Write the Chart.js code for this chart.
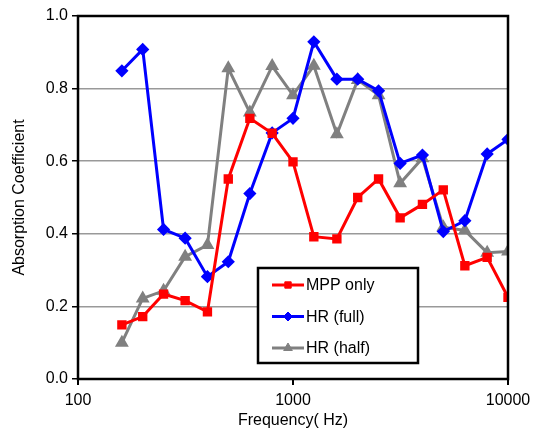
<!DOCTYPE html>
<html>
<head>
<meta charset="utf-8">
<script src="https://cdn.jsdelivr.net/npm/chart.js@4/dist/chart.umd.min.js"></script>
<style>
  html, body { margin: 0; padding: 0; background: #fff; }
  #wrap { width: 540px; height: 440px; }
</style>
</head>
<body>
<div id="wrap"><canvas id="absChart" width="540" height="440"></canvas></div>
<script>
// 1/3 octave band centres (Hz)
const freqs = [160, 200, 250, 315, 400, 500, 630, 800, 1000, 1250, 1600, 2000, 2500, 3150, 4000, 5000, 6300, 8000, 10000];

const mppOnly = [0.149, 0.172, 0.234, 0.216, 0.185, 0.551, 0.718, 0.677, 0.598, 0.392, 0.386, 0.500, 0.551, 0.444, 0.481, 0.521, 0.312, 0.335, 0.225];
const hrFull  = [0.849, 0.908, 0.412, 0.388, 0.282, 0.323, 0.511, 0.678, 0.718, 0.929, 0.826, 0.826, 0.794, 0.594, 0.617, 0.406, 0.436, 0.620, 0.660];
const hrHalf  = [0.100, 0.222, 0.243, 0.337, 0.369, 0.856, 0.734, 0.862, 0.782, 0.863, 0.674, 0.824, 0.782, 0.539, 0.608, 0.418, 0.409, 0.348, 0.351];

const xTicks = [100, 1000, 10000];

const toPoints = vals => vals.map((v, i) => ({ x: freqs[i], y: v }));

const FONT = '"Liberation Sans", Arial, sans-serif';

// black frame around the plot + boxed legend inside the plot
const framePlugin = {
    id: 'frame',
    afterDraw(chart) {
        const { ctx, chartArea: a } = chart;
        ctx.save();
        ctx.setLineDash([]);
        ctx.strokeStyle = '#000';
        ctx.lineWidth = 2.5;
        ctx.beginPath();
        ctx.rect(a.left, a.top, a.right - a.left, a.bottom - a.top);
        ctx.stroke();

        // legend box
        const bx = 258, by = 268, bw = 160, bh = 95;
        ctx.fillStyle = '#fff';
        ctx.fillRect(bx, by, bw, bh);
        ctx.beginPath();
        ctx.rect(bx, by, bw, bh);
        ctx.stroke();
        ctx.font = '16px ' + FONT;
        ctx.textBaseline = 'middle';
        chart.data.datasets.forEach((ds, i) => {
            const y = by + 17 + i * 31.5;
            ctx.strokeStyle = ds.borderColor;
            ctx.lineWidth = 3;
            ctx.beginPath();
            ctx.moveTo(bx + 14, y);
            ctx.lineTo(bx + 46, y);
            ctx.stroke();
            ctx.fillStyle = ds.backgroundColor;
            ctx.lineWidth = 1;
            Chart.helpers.drawPoint(ctx, {
                pointStyle: ds.pointStyle,
                radius: ds.pointRadius,
                borderWidth: 1
            }, bx + 30, y);
            ctx.fillStyle = '#000';
            ctx.fillText(ds.label, bx + 48, y + 1);
        });
        ctx.restore();
    }
};

new Chart(document.getElementById('absChart'), {
    type: 'line',
    data: {
        datasets: [
            {
                label: 'MPP only',
                data: toPoints(mppOnly),
                borderColor: '#ff0000',
                backgroundColor: '#ff0000',
                pointStyle: 'rect',
                pointRadius: 4.5,
                borderWidth: 3
            },
            {
                label: 'HR (full)',
                data: toPoints(hrFull),
                borderColor: '#0000ff',
                backgroundColor: '#0000ff',
                pointStyle: 'rectRot',
                pointRadius: 4.5,
                borderWidth: 3
            },
            {
                label: 'HR (half)',
                data: toPoints(hrHalf),
                borderColor: '#808080',
                backgroundColor: '#808080',
                pointStyle: 'triangle',
                pointRadius: 5,
                borderWidth: 3
            }
        ]
    },
    options: {
        responsive: false,
        animation: false,
        layout: { padding: { left: 10, right: 32, top: 16, bottom: 10 } },
        plugins: {
            legend: { display: false },
            tooltip: { enabled: false }
        },
        elements: {
            line: { tension: 0 },
            point: { borderWidth: 1 }
        },
        scales: {
            x: {
                type: 'logarithmic',
                min: 100,
                max: 10000,
                afterBuildTicks: scale => {
                    scale.ticks = xTicks.map(v => ({ value: v }));
                },
                afterFit: scale => { scale.height = 51; },
                grid: {
                    drawOnChartArea: false,
                    drawTicks: true,
                    tickLength: 6,
                    color: '#000',
                    lineWidth: 2
                },
                border: { display: false },
                ticks: {
                    color: '#000',
                    font: { family: FONT, size: 16 },
                    padding: 6,
                    maxRotation: 0,
                    autoSkip: false,
                    callback: v => String(v)
                },
                title: {
                    display: true,
                    text: 'Frequency( Hz)',
                    color: '#000',
                    font: { family: FONT, size: 16 },
                    padding: { top: 0, bottom: 0 }
                }
            },
            y: {
                min: 0,
                max: 1,
                afterFit: scale => { scale.width = 68; },
                grid: {
                    color: '#999999',
                    lineWidth: 1.5,
                    drawTicks: true,
                    tickLength: 6,
                    tickColor: '#000'
                },
                border: { display: false },
                ticks: {
                    stepSize: 0.2,
                    color: '#000',
                    font: { family: FONT, size: 16 },
                    padding: 4,
                    callback: v => v.toFixed(1)
                },
                title: {
                    display: true,
                    text: 'Absorption Coefficient',
                    color: '#000',
                    font: { family: FONT, size: 16 },
                    padding: { top: 0, bottom: 0 }
                }
            }
        }
    },
    plugins: [framePlugin]
});
</script>
</body>
</html>
